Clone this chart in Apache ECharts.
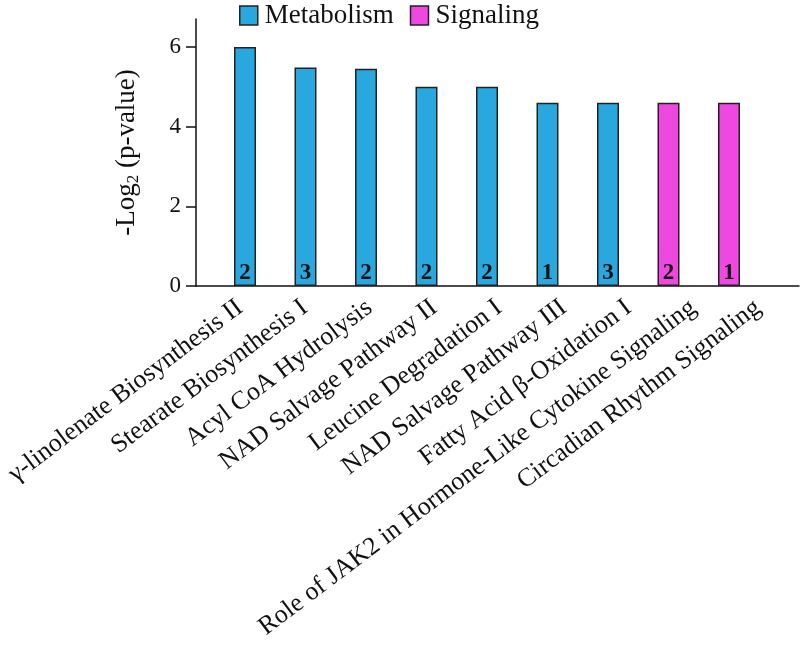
<!DOCTYPE html>
<html>
<head>
<meta charset="utf-8">
<script src="https://cdn.jsdelivr.net/npm/echarts@6/dist/echarts.min.js"></script>
<style>html,body{margin:0;padding:0;background:#fff}#c{width:800px;height:645px}</style>
</head>
<body>
<div id="c"></div>
<script>
const categories = [
  'γ-linolenate Biosynthesis II',
  'Stearate Biosynthesis I',
  'Acyl CoA Hydrolysis',
  'NAD Salvage Pathway II',
  'Leucine Degradation I',
  'NAD Salvage Pathway III',
  'Fatty Acid β-Oxidation I',
  'Role of JAK2 in Hormone-Like Cytokine Signaling',
  'Circadian Rhythm Signaling'
];
const values = [6.0, 5.48, 5.45, 5.0, 5.0, 4.6, 4.6, 4.6, 4.6];
const groups = ['Metabolism','Metabolism','Metabolism','Metabolism','Metabolism','Metabolism','Metabolism','Signaling','Signaling'];
const counts = [2, 3, 2, 2, 2, 1, 3, 2, 1];
const groupNames = ['Metabolism', 'Signaling'];
const yTicks = [0, 2, 4, 6];

const FONT = "'Liberation Serif', 'Times New Roman', serif";
const colors = { Metabolism: '#29a8e0', Signaling: '#ee48e0' };

const series = groupNames.map(g => ({
  name: g,
  type: 'bar',
  stack: 'all',
  xAxisIndex: 0, yAxisIndex: 0,
  barWidth: 22,
  itemStyle: { color: colors[g], borderColor: '#222', borderWidth: 1.5 },
  label: {
    show: true, position: 'insideBottom', distance: 1,
    fontFamily: FONT, fontWeight: 'bold', fontSize: 23, color: '#111',
    formatter: p => counts[p.dataIndex]
  },
  data: values.map((v, i) => groups[i] === g ? v : '-')
}));

const chart = echarts.init(document.getElementById('c'));
chart.setOption({
  animation: false,
  backgroundColor: '#fff',
  textStyle: { fontFamily: FONT },
  legend: {
    data: groupNames,
    top: -3, left: 234,
    icon: 'rect', itemWidth: 18, itemHeight: 19, itemGap: 16,
    itemStyle: { borderColor: '#222', borderWidth: 1.5 },
    textStyle: { fontFamily: FONT, fontSize: 27, color: '#111', padding: [0, 0, 0, 2] }
  },
  grid: [
    { left: 214.75, right: 40.75, top: 19, bottom: 359 },
    { left: 196, right: 1, top: 19, bottom: 359 },
    { left: 207.6, right: 9.6, top: 19, bottom: 359 }
  ],
  xAxis: [
    {
      type: 'category', gridIndex: 0, data: categories,
      axisLine: { show: false }, axisTick: { show: false }, axisLabel: { show: false }
    },
    {
      type: 'value', gridIndex: 1, min: 0, max: 1,
      axisLine: { show: true, lineStyle: { color: '#111', width: 1.5 } },
      axisTick: { show: false }, axisLabel: { show: false }, splitLine: { show: false }
    },
    {
      type: 'category', gridIndex: 2, data: categories,
      axisLine: { show: false }, axisTick: { show: false },
      axisLabel: { rotate: 37, interval: 0, margin: 19, fontFamily: FONT, fontSize: 26, color: '#111' }
    }
  ],
  yAxis: [
    {
      type: 'value', gridIndex: 0, min: 0, max: 6.7, offset: 18.75,
      name: '{a|-Log}{s|2}{a| (p-value)}',
      nameLocation: 'middle', nameGap: 54, nameRotate: 90,
      nameTextStyle: {
        rich: {
          a: { fontFamily: FONT, fontSize: 27, color: '#111', lineHeight: 30 },
          s: { fontFamily: FONT, fontSize: 17, color: '#111', lineHeight: 30, verticalAlign: 'bottom', padding: [14, 0, 0, 0] }
        }
      },
      axisLine: { show: true, lineStyle: { color: '#111', width: 1.5 } },
      axisTick: { show: true, length: 10, customValues: yTicks, lineStyle: { color: '#111', width: 1.5 } },
      axisLabel: { customValues: yTicks, fontFamily: FONT, fontSize: 23, color: '#111', margin: 15 },
      splitLine: { show: false }
    },
    { type: 'value', gridIndex: 1, min: 0, max: 1, show: false },
    { type: 'value', gridIndex: 2, min: 0, max: 1, show: false }
  ],
  series: series
});
</script>
</body>
</html>
